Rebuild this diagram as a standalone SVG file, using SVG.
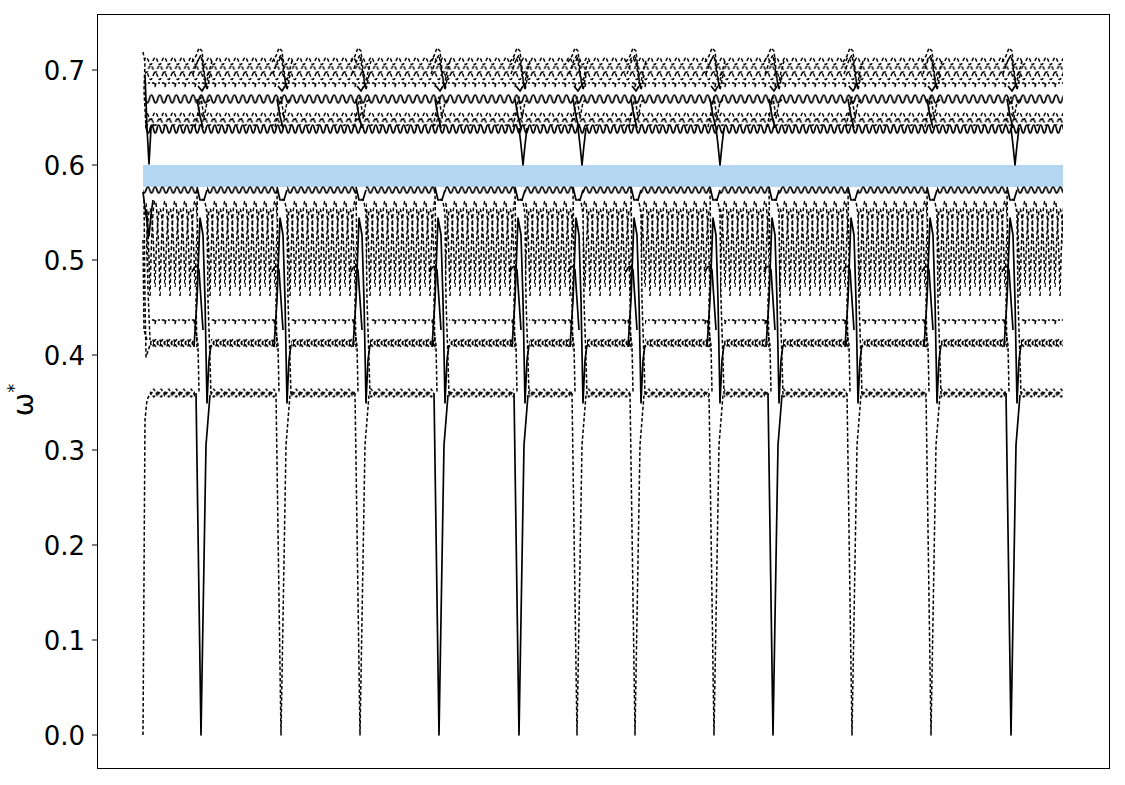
<svg xmlns="http://www.w3.org/2000/svg" xmlns:xlink="http://www.w3.org/1999/xlink" width="1125" height="785" viewBox="0 0 1125 785">
<style>
.s{fill:none;stroke:#000;stroke-width:1.7;stroke-linejoin:round}
.d{fill:none;stroke:#000;stroke-width:1.5;stroke-dasharray:3.5,2.2;stroke-linejoin:round}
.o{fill:none;stroke:#000;stroke-width:1.5;stroke-dasharray:4,2.5}
.tick{stroke:#000;stroke-width:1}
.lbl{font-family:"DejaVu Sans","Liberation Sans",sans-serif;font-size:26px;fill:#000}
</style>
<defs>
<pattern id="pw1" width="8.3" height="12" patternUnits="userSpaceOnUse"><path class="s" d="M-8.3,6 Q-6.225,-2 -4.15,6 T0,6 T4.15,6 T8.3,6 T12.45,6 T16.6,6"/></pattern>
<pattern id="pw1b" width="7" height="12" patternUnits="userSpaceOnUse" x="3"><path class="s" d="M-7,6 Q-5.25,-2 -3.5,6 T0,6 T3.5,6 T7,6 T10.5,6 T14,6"/></pattern>
<pattern id="pw1s" width="7.3" height="8" patternUnits="userSpaceOnUse"><path class="s" d="M-7.3,4 Q-5.475,-2 -3.65,4 T0,4 T3.65,4 T7.3,4 T10.95,4 T14.6,4"/></pattern>
<pattern id="pw2" width="9" height="12" patternUnits="userSpaceOnUse"><path class="d" d="M-9,6 Q-6.75,-1 -4.5,6 T0,6 T4.5,6 T9,6 T13.5,6 T18,6"/></pattern>
<pattern id="pw2b" width="9" height="12" patternUnits="userSpaceOnUse" x="4.5"><path class="d" d="M-9,6 Q-6.75,-1 -4.5,6 T0,6 T4.5,6 T9,6 T13.5,6 T18,6"/></pattern>
<pattern id="pw3" width="7" height="12" patternUnits="userSpaceOnUse"><path class="d" d="M-7,6 Q-5.25,-1 -3.5,6 T0,6 T3.5,6 T7,6 T10.5,6 T14,6"/><path class="d" d="M-7,6 Q-5.25,13 -3.5,6 T0,6 T3.5,6 T7,6 T10.5,6 T14,6"/></pattern>
<pattern id="p36" width="7.5" height="12" patternUnits="userSpaceOnUse"><path class="d" d="M-7.5,9 L-3.75,2 L0,9 L3.75,2 L7.5,9 L11.25,2 L15,9"/><path class="d" d="M-7.5,5 L-3.75,10 L0,5 L3.75,10 L7.5,5 L11.25,10 L15,5"/></pattern>
<pattern id="pflat" width="10" height="8" patternUnits="userSpaceOnUse"><path class="d" d="M-10,2 L-6,2 L-5,5.5 L-4,2 L0,2 L4,2 L5,5.5 L6,2 L10,2 L14,2 L15,5.5 L16,2 L20,2"/></pattern>
<pattern id="posc" width="10" height="100" patternUnits="userSpaceOnUse"><path class="o" d="M0,97 Q2.2,2 5,2 Q7.8,2 10,97"/></pattern>
<pattern id="posc2" width="10" height="100" patternUnits="userSpaceOnUse" x="5"><path class="o" d="M0,88 Q2.2,10 5,10 Q7.8,10 10,88"/></pattern>
<clipPath id="clipA"><rect x="143" y="0" width="54" height="785"/><rect x="207" y="0" width="70" height="785"/><rect x="287" y="0" width="69" height="785"/><rect x="366" y="0" width="69" height="785"/><rect x="445" y="0" width="70" height="785"/><rect x="525" y="0" width="48" height="785"/><rect x="583" y="0" width="48" height="785"/><rect x="641" y="0" width="69" height="785"/><rect x="720" y="0" width="49" height="785"/><rect x="779" y="0" width="69" height="785"/><rect x="858" y="0" width="69" height="785"/><rect x="937" y="0" width="70" height="785"/><rect x="1017" y="0" width="46" height="785"/></clipPath>
<clipPath id="clipB"><rect x="150" y="0" width="45" height="785"/><rect x="211" y="0" width="65" height="785"/><rect x="291" y="0" width="64" height="785"/><rect x="370" y="0" width="64" height="785"/><rect x="449" y="0" width="65" height="785"/><rect x="529" y="0" width="43" height="785"/><rect x="587" y="0" width="43" height="785"/><rect x="645" y="0" width="64" height="785"/><rect x="724" y="0" width="44" height="785"/><rect x="783" y="0" width="64" height="785"/><rect x="862" y="0" width="64" height="785"/><rect x="941" y="0" width="65" height="785"/><rect x="1021" y="0" width="42" height="785"/></clipPath>
<g id="sz"><path class="s" d="M-5,393 L0,735 L5,445 L9,395"/></g>
<g id="szd"><path class="d" d="M-5,393 L0,735 L5,445 L9,395"/></g>
<g id="smid"><path class="s" d="M-7,347 L-4,300 L-1,218 L2,235 L4,300 L6,403 L8,360 L10,345"/><path class="s" d="M-9,272 Q-5,262 -2,270 L2,330"/><path class="d" d="M-4,190 L-3,260 L-5,300 L-4,350"/><path class="d" d="M1,200 Q4,196 6,215 L7,300 L9,360 L10,395"/><path class="d" d="M-7,320 L-3,345 L-2,392"/><path class="s" d="M-4,187 L-1,200 L3,200 L6,190"/></g>
<g id="stop"><path class="d" d="M-9,62 L-5,56 L-2,48 L1,51 L3,70 L5,87 L8,72 L11,61"/><path class="d" d="M-8,74 L-3,60 L0,55 L3,75 L6,90 L9,75"/><path class="s" d="M-3,86 L1,91 L4,86"/><path class="d" d="M-6,127 L-3,112 L0,97 L3,118 L6,102 L10,99"/><path class="s" d="M-4,99 L-1,116 L2,128"/></g>
<g id="sdip"><path class="s" d="M-2,128 L0,145 L2,165 L4,145 L6,128"/></g>
</defs>
<rect x="0" y="0" width="1125" height="785" fill="#fff"/>
<g id="band"><rect x="143" y="165" width="920" height="22" fill="#b4d6f1"/></g>
<g id="upper">
<g transform="translate(0,55)"><rect x="145" y="0" width="918" height="12" fill="url(#pw2)"/></g>
<g transform="translate(0,63)"><rect x="145" y="0" width="918" height="12" fill="url(#pw2b)"/></g>
<g transform="translate(0,70)"><rect x="145" y="0" width="918" height="12" fill="url(#pw2)"/></g>
<g transform="translate(0,81)"><rect x="145" y="0" width="918" height="8" fill="url(#pflat)"/></g>
<g transform="translate(0,93)"><rect x="145" y="0" width="918" height="12" fill="url(#pw1)"/></g>
<g transform="translate(0,110)"><rect x="145" y="0" width="918" height="12" fill="url(#pw2)"/></g>
<g transform="translate(0,116)"><rect x="145" y="0" width="918" height="12" fill="url(#pw2b)"/></g>
<g transform="translate(0,123)"><rect x="145" y="0" width="918" height="12" fill="url(#pw1b)"/></g>
</g>
<g id="middle" clip-path="url(#clipA)">
<g transform="translate(0,186)"><rect x="143" y="0" width="920" height="8" fill="url(#pw1s)"/></g>
<g transform="translate(0,199)"><rect x="146" y="0" width="917" height="100" fill="url(#posc)"/></g>
<g transform="translate(0,199)"><rect x="146" y="0" width="917" height="100" fill="url(#posc2)"/></g>
</g>
<g id="lower" clip-path="url(#clipB)">
<g transform="translate(0,318)"><rect x="143" y="0" width="920" height="8" fill="url(#pflat)"/></g>
<g transform="translate(0,337)"><rect x="143" y="0" width="920" height="12" fill="url(#pw3)"/></g>
<g transform="translate(0,387)"><rect x="143" y="0" width="920" height="12" fill="url(#p36)"/></g>
</g>
<g id="start">
<path class="d" d="M143,735 L145,420 L147,400 L151,392"/>
<path class="d" d="M143,52 L145,62 L144,90 L146,128"/>
<path class="s" d="M145,75 L147,128 L149,164 L151,128 L154,124"/>
<path class="s" d="M143,192 L146,215 L149,236 L151,215 L153,200"/>
<path class="d" d="M144,200 L145,300 L146,357 L150,345"/>
<path class="d" d="M147,212 L148,290 L150,340"/>
<path class="d" d="M143,240 L144,330 L147,340"/>
</g>
<g id="spikes">
<use href="#sz" x="201"/><use href="#szd" x="281"/><use href="#szd" x="360"/><use href="#sz" x="439"/><use href="#sz" x="519"/><use href="#szd" x="577"/><use href="#szd" x="635"/><use href="#szd" x="714"/><use href="#sz" x="773"/><use href="#szd" x="852"/><use href="#szd" x="931"/><use href="#sz" x="1011"/>
<use href="#smid" x="201"/><use href="#smid" x="281"/><use href="#smid" x="360"/><use href="#smid" x="439"/><use href="#smid" x="519"/><use href="#smid" x="577"/><use href="#smid" x="635"/><use href="#smid" x="714"/><use href="#smid" x="773"/><use href="#smid" x="852"/><use href="#smid" x="931"/><use href="#smid" x="1011"/>
<use href="#stop" x="201"/><use href="#stop" x="281"/><use href="#stop" x="360"/><use href="#stop" x="439"/><use href="#stop" x="519"/><use href="#stop" x="577"/><use href="#stop" x="635"/><use href="#stop" x="714"/><use href="#stop" x="773"/><use href="#stop" x="852"/><use href="#stop" x="931"/><use href="#stop" x="1011"/>
<use href="#sdip" x="521"/><use href="#sdip" x="580"/><use href="#sdip" x="718"/><use href="#sdip" x="1013"/>
</g>
<g id="axes">
<rect x="97.5" y="14.5" width="1012" height="754" fill="none" stroke="#000" stroke-width="1"/>
<path class="tick" d="M92,735H97.5M92,640H97.5M92,545H97.5M92,450H97.5M92,355H97.5M92,260H97.5M92,165H97.5M92,70H97.5"/>
<text class="lbl" text-anchor="end" x="85" y="744.5">0.0</text>
<text class="lbl" text-anchor="end" x="85" y="649.5">0.1</text>
<text class="lbl" text-anchor="end" x="85" y="554.5">0.2</text>
<text class="lbl" text-anchor="end" x="85" y="459.5">0.3</text>
<text class="lbl" text-anchor="end" x="85" y="364.5">0.4</text>
<text class="lbl" text-anchor="end" x="85" y="269.5">0.5</text>
<text class="lbl" text-anchor="end" x="85" y="174.5">0.6</text>
<text class="lbl" text-anchor="end" x="85" y="79.5">0.7</text>
<text class="lbl" style="font-size:28px" transform="translate(33,400) rotate(-90)" text-anchor="middle">ω<tspan font-size="18" dy="-13">*</tspan></text>
</g>
</svg>
